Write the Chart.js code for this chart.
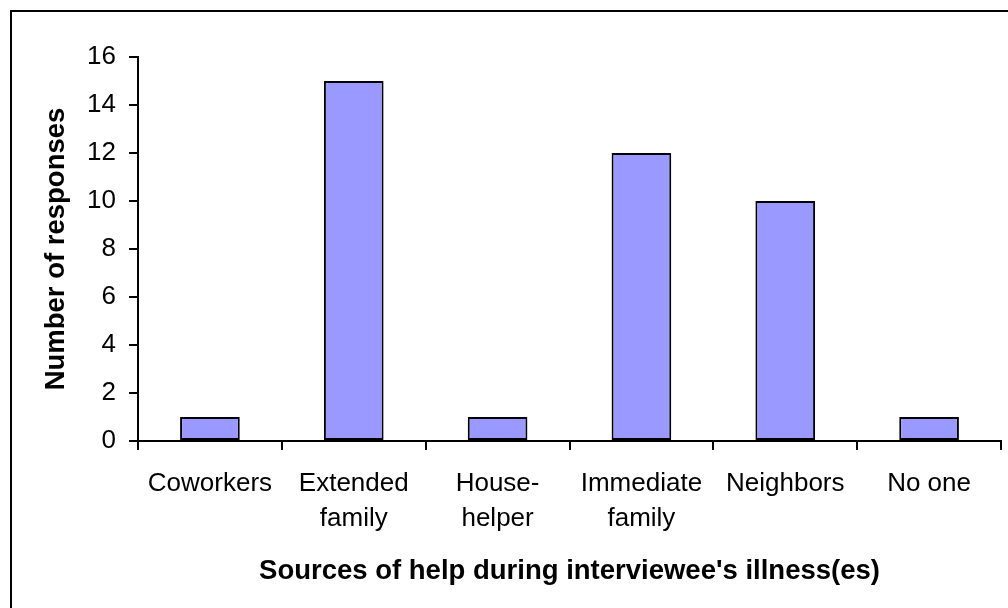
<!DOCTYPE html>
<html>
<head>
<meta charset="utf-8">
<title>Sources of help</title>
<script src="https://cdn.jsdelivr.net/npm/chart.js@4"></script>
<style>
  html, body { margin: 0; padding: 0; background: #fff; }
  #wrap { width: 1008px; height: 608px; }
</style>
</head>
<body>
<div id="wrap"><canvas id="helpChart" width="1008" height="608"></canvas></div>
<script>
// categories (multi-line ones split like the axis shows them)
const sources = ['Coworkers', ['Extended', 'family'], ['House-', 'helper'], ['Immediate', 'family'], 'Neighbors', 'No one'];
const responses = [1, 15, 1, 12, 10, 1];
const yTicks = { min: 0, max: 16, step: 2 };

const FONT = "'Liberation Sans', Arial, sans-serif";

// white page with the thin black frame round the chart
const framePlugin = {
    id: 'frame',
    beforeDraw(chart) {
        const ctx = chart.ctx;
        ctx.save();
        ctx.fillStyle = '#ffffff';
        ctx.fillRect(0, 0, chart.width, chart.height);
        ctx.strokeStyle = '#000000';
        ctx.lineWidth = 2;
        ctx.strokeRect(11, 11, 1200, 1200);
        ctx.restore();
    }
};

new Chart(document.getElementById('helpChart').getContext('2d'), {
    type: 'bar',
    data: {
        labels: sources,
        datasets: [{
            data: responses,
            backgroundColor: '#9999ff',
            borderColor: '#000000',
            borderWidth: 2,
            borderSkipped: false,
            barPercentage: 0.415,
            categoryPercentage: 1.0
        }]
    },
    options: {
        responsive: false,
        animation: false,
        events: [],
        layout: { padding: { top: 57, right: 7, bottom: 0, left: 0 } },
        plugins: {
            legend: { display: false },
            tooltip: { enabled: false }
        },
        scales: {
            x: {
                grid: { offset: true, drawOnChartArea: false, drawTicks: true, tickLength: 9, color: '#000', lineWidth: 2 },
                border: { color: '#000', width: 2 },
                ticks: { color: '#000', font: { family: FONT, size: 26, lineHeight: 1.35 }, padding: 16, maxRotation: 0, autoSkip: false },
                title: {
                    display: true,
                    text: "Sources of help during interviewee's illness(es)",
                    color: '#000',
                    font: { family: FONT, size: 27.5, weight: 'bold', lineHeight: 1.2 },
                    padding: { top: 0, bottom: 20 }
                },
                afterFit(scale) { scale.height = 167; }
            },
            y: {
                min: yTicks.min,
                max: yTicks.max,
                grid: { drawOnChartArea: false, drawTicks: true, tickLength: 9, color: '#000', lineWidth: 2 },
                border: { color: '#000', width: 2 },
                ticks: { stepSize: yTicks.step, color: '#000', font: { family: FONT, size: 26 }, padding: 13 },
                title: {
                    display: true,
                    text: 'Number of responses',
                    color: '#000',
                    font: { family: FONT, size: 27.5, weight: 'bold', lineHeight: 1.2 },
                    padding: { top: 40, bottom: 0 }
                },
                afterFit(scale) { scale.width = 138; }
            }
        }
    },
    plugins: [framePlugin]
});
</script>
</body>
</html>
